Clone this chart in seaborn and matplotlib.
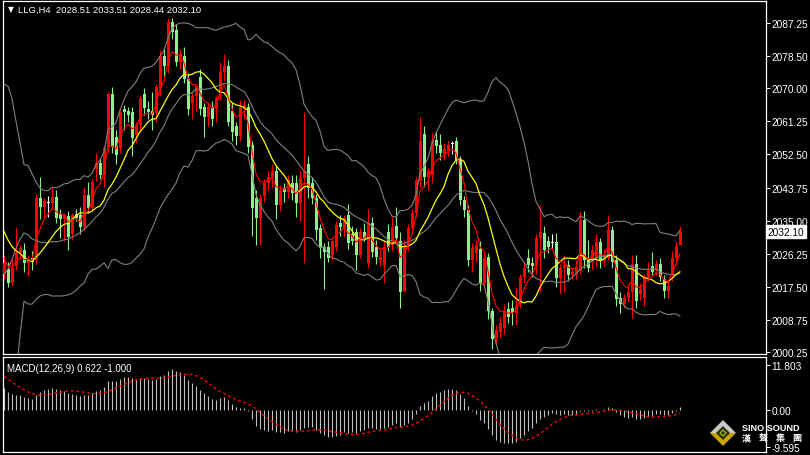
import numpy as np
import pandas as pd
import seaborn as sns
import matplotlib.pyplot as plt
from matplotlib.patches import Polygon

### LLG H4 candles with Bollinger(20,2), two MAs and MACD(12,26,9)

# closes before the visible window, only used to warm up the indicators
pre_close = [2003, 2000, 2002, 2005, 2001, 1999, 2002, 2004, 2001, 2003,
             2000, 2002, 2005, 2003, 2001, 2004, 2002, 2000, 2003, 2001,
             1999, 2002, 2004, 2001, 2003,
             1990, 1972, 1968, 1980, 1990,
             2034, 2046, 2050, 2046, 2043, 2040, 2036, 2037, 2032, 2029,
             2027, 2026, 2024, 2022]

opens = [2021.0, 2022.3, 2018.6, 2023.0, 2026.4, 2027.3, 2023.7, 2025.0, 2024.5, 2041.0,
         2038.5, 2039.6, 2039.6, 2041.3, 2036.8, 2035.4, 2036.3, 2031.5, 2036.8, 2036.6,
         2033.2, 2041.8, 2038.3, 2048.7, 2050.3, 2047.1, 2054.5, 2068.5, 2057.0, 2054.2,
         2064.4, 2064.0, 2063.8, 2057.7, 2060.4, 2068.4, 2064.5, 2064.0, 2063.5, 2070.0,
         2078.5, 2076.0, 2087.5, 2085.5, 2077.0, 2078.5, 2072.4, 2066.0, 2068.0, 2073.0,
         2065.0, 2062.5, 2065.0, 2064.5, 2068.9, 2074.4, 2076.0, 2064.0, 2060.0, 2057.5,
         2064.5, 2065.0, 2055.0, 2041.0, 2035.7, 2041.5, 2045.0, 2046.6, 2048.0, 2039.0,
         2043.5, 2042.5, 2045.0, 2045.0, 2039.6, 2046.3, 2050.0, 2045.0, 2041.0, 2033.0,
         2028.0, 2028.0, 2025.8, 2028.0, 2034.5, 2033.0, 2036.5, 2031.5, 2031.9, 2026.0,
         2032.0, 2023.7, 2034.5, 2028.0, 2024.5, 2023.3, 2032.0, 2028.5, 2033.5, 2029.5,
         2016.5, 2028.5, 2033.0, 2037.0, 2045.5, 2058.0, 2046.5, 2047.0, 2056.2, 2055.0,
         2052.5, 2053.5, 2055.3, 2056.0, 2051.0, 2040.5, 2037.8, 2024.5, 2026.5, 2027.6,
         2018.6, 2025.4, 2011.0, 2004.0, 2005.5, 2006.5, 2011.5, 2012.0, 2010.5, 2013.0,
         2020.0, 2025.0, 2023.8, 2023.3, 2030.3, 2031.8, 2029.5, 2029.0, 2029.3, 2019.7,
         2022.4, 2023.2, 2020.5, 2021.0, 2021.8, 2035.2, 2024.5, 2024.0, 2025.0, 2029.3,
         2024.3, 2025.2, 2032.4, 2024.5, 2014.6, 2013.0, 2014.6, 2016.0, 2023.5, 2015.5,
         2014.5, 2020.0, 2023.0, 2021.8, 2023.5, 2019.5, 2016.5, 2020.5, 2025.0, 2028.51]

highs = [2026.0, 2024.0, 2025.0, 2033.3, 2028.5, 2029.0, 2026.0, 2027.0, 2042.0, 2046.5,
         2041.0, 2041.5, 2043.6, 2043.0, 2038.0, 2037.0, 2037.5, 2037.0, 2038.0, 2038.5,
         2043.5, 2045.2, 2046.0, 2053.0, 2051.5, 2055.0, 2069.0, 2070.2, 2059.0, 2064.5,
         2065.5, 2065.0, 2065.0, 2061.0, 2068.0, 2070.0, 2066.5, 2069.0, 2071.0, 2080.0,
         2081.0, 2088.5, 2088.5, 2087.0, 2080.5, 2081.0, 2074.0, 2069.0, 2071.0, 2075.0,
         2066.0, 2066.0, 2066.5, 2068.0, 2077.0, 2079.0, 2077.5, 2066.0, 2061.0, 2067.0,
         2067.0, 2066.0, 2056.0, 2043.0, 2042.0, 2046.0, 2048.0, 2050.0, 2049.5, 2044.5,
         2045.0, 2047.0, 2047.0, 2047.0, 2048.0, 2063.6, 2052.0, 2046.5, 2042.0, 2034.0,
         2029.0, 2029.5, 2030.0, 2035.0, 2036.5, 2036.5, 2039.5, 2033.5, 2033.0, 2033.0,
         2034.5, 2038.0, 2036.0, 2030.0, 2027.5, 2029.5, 2034.0, 2036.0, 2038.5, 2032.0,
         2030.0, 2034.0, 2038.0, 2046.5, 2062.3, 2060.0, 2049.0, 2058.5, 2058.5, 2058.0,
         2055.5, 2056.0, 2056.0, 2057.0, 2052.0, 2041.5, 2039.0, 2029.0, 2030.0, 2029.5,
         2026.5, 2026.5, 2012.0, 2007.5, 2009.5, 2013.0, 2013.5, 2014.0, 2017.5, 2021.0,
         2024.0, 2027.5, 2025.5, 2031.5, 2039.2, 2033.5, 2031.0, 2031.5, 2031.8, 2023.5,
         2026.0, 2024.5, 2022.5, 2024.5, 2037.2, 2037.5, 2030.0, 2028.5, 2031.5, 2030.5,
         2027.5, 2036.5, 2033.5, 2026.0, 2016.0, 2015.5, 2017.5, 2026.0, 2026.0, 2018.5,
         2021.0, 2024.0, 2026.6, 2024.5, 2025.0, 2020.5, 2019.0, 2027.0, 2029.5, 2033.51]

lows = [2019.5, 2017.5, 2018.0, 2022.0, 2025.0, 2021.5, 2020.5, 2022.0, 2023.5, 2035.5,
        2036.0, 2036.0, 2038.0, 2034.5, 2030.3, 2029.5, 2027.1, 2030.0, 2035.0, 2031.5,
        2032.5, 2037.0, 2037.5, 2045.5, 2046.0, 2044.0, 2053.0, 2053.0, 2050.0, 2053.0,
        2059.0, 2061.0, 2052.0, 2055.5, 2059.0, 2063.0, 2062.0, 2059.0, 2061.0, 2068.0,
        2073.0, 2074.0, 2083.0, 2076.0, 2075.0, 2071.5, 2063.0, 2062.0, 2064.0, 2063.0,
        2057.0, 2060.0, 2060.0, 2061.0, 2067.0, 2072.0, 2060.0, 2056.0, 2055.0, 2056.0,
        2062.0, 2053.0, 2031.0, 2028.5, 2028.5, 2040.0, 2043.0, 2044.0, 2035.5, 2037.5,
        2040.0, 2041.0, 2040.5, 2036.0, 2035.0, 2023.7, 2041.0, 2039.5, 2030.0, 2025.0,
        2017.0, 2024.0, 2024.5, 2027.0, 2031.0, 2031.0, 2027.5, 2028.5, 2022.0, 2025.0,
        2029.5, 2022.5, 2025.5, 2023.5, 2023.0, 2018.5, 2027.0, 2027.0, 2029.5, 2012.0,
        2016.0, 2027.0, 2031.5, 2036.0, 2044.0, 2044.0, 2043.0, 2045.0, 2053.0, 2051.0,
        2051.0, 2052.0, 2052.5, 2050.0, 2039.0, 2036.0, 2023.0, 2021.5, 2024.0, 2016.5,
        2017.0, 2009.0, 2001.0, 2002.5, 2004.0, 2005.0, 2008.0, 2007.5, 2007.5, 2012.0,
        2018.5, 2021.5, 2020.0, 2021.0, 2016.5, 2025.0, 2026.5, 2027.5, 2017.5, 2015.5,
        2016.0, 2019.0, 2019.5, 2019.5, 2021.0, 2022.5, 2021.5, 2022.0, 2023.0, 2022.5,
        2023.0, 2024.5, 2022.5, 2012.5, 2010.6, 2012.0, 2013.5, 2009.3, 2012.0, 2014.0,
        2012.5, 2019.0, 2020.5, 2020.5, 2019.0, 2014.5, 2014.5, 2019.0, 2024.0, 2028.44]

closes = [2023.7, 2018.6, 2022.6, 2026.4, 2027.8, 2023.7, 2024.5, 2024.0, 2041.0, 2038.5,
          2040.2, 2039.6, 2041.3, 2035.8, 2035.4, 2036.5, 2030.6, 2036.4, 2035.6, 2033.2,
          2041.8, 2038.3, 2045.2, 2050.3, 2047.1, 2054.3, 2068.5, 2054.5, 2052.4, 2063.8,
          2063.6, 2062.8, 2056.9, 2060.4, 2067.5, 2064.9, 2063.7, 2062.8, 2070.2, 2078.5,
          2075.8, 2087.5, 2085.0, 2077.0, 2079.0, 2072.4, 2064.4, 2068.0, 2070.5, 2064.4,
          2062.5, 2065.0, 2062.0, 2067.5, 2074.4, 2076.0, 2061.0, 2058.5, 2057.5, 2065.0,
          2065.5, 2054.5, 2038.3, 2035.7, 2041.0, 2045.0, 2046.6, 2048.0, 2039.0, 2043.0,
          2042.5, 2045.7, 2042.3, 2039.6, 2046.3, 2048.0, 2043.6, 2041.0, 2032.5, 2027.7,
          2026.8, 2025.2, 2029.5, 2033.8, 2033.2, 2035.7, 2029.0, 2029.5, 2025.8, 2031.9,
          2030.5, 2034.5, 2026.6, 2025.4, 2025.5, 2028.0, 2028.0, 2033.2, 2030.5, 2016.0,
          2028.0, 2033.0, 2037.0, 2045.7, 2056.0, 2046.5, 2048.2, 2056.0, 2054.8, 2052.8,
          2054.0, 2055.0, 2055.3, 2050.8, 2040.5, 2037.8, 2024.5, 2027.8, 2028.5, 2018.6,
          2025.0, 2011.2, 2003.8, 2006.0, 2008.0, 2011.2, 2009.5, 2010.5, 2012.5, 2020.0,
          2022.6, 2023.2, 2023.0, 2030.3, 2032.0, 2027.2, 2028.0, 2029.0, 2019.7, 2022.4,
          2023.2, 2020.5, 2021.3, 2022.8, 2035.2, 2024.5, 2022.4, 2027.1, 2029.3, 2024.3,
          2025.8, 2032.4, 2024.0, 2014.4, 2013.0, 2014.6, 2016.0, 2023.5, 2013.8, 2017.0,
          2020.0, 2022.0, 2021.5, 2023.5, 2020.0, 2016.5, 2017.7, 2025.2, 2028.4, 2032.10]

price_ticks = [2087.25, 2078.50, 2070.00, 2061.25, 2052.50, 2043.75,
               2035.00, 2026.25, 2017.50, 2008.75, 2000.25]
price_labels = ["2087.25", "2078.50", "2070.00", "2061.25", "2052.50", "2043.75",
                "2035.00", "2026.25", "2017.50", "2008.75", "2000.25"]
macd_ticks = [11.803, 0.0, -9.595]
macd_labels = ["11.803", "0.00", "-9.595"]
header = "LLG,H4  2028.51 2033.51 2028.44 2032.10"
macd_header = "MACD(12,26,9) 0.622 -1.000"
last_price = 2032.10
logo_en = "SINO SOUND"
logo_cn = ["漢", "聲", "集", "團"]

sns.set_style("dark")
plt.rcParams["font.family"] = ["Liberation Sans", "DejaVu Sans"]

df = pd.DataFrame({"open": opens, "high": highs, "low": lows, "close": closes})
n = len(df)
k = len(pre_close)

allc = pd.Series(pre_close + closes, dtype=float)
mid = allc.rolling(20).mean()
sd = allc.rolling(20).std(ddof=0)
ema12 = allc.ewm(span=12, adjust=False).mean()
ema26 = allc.ewm(span=26, adjust=False).mean()
macd = ema12 - ema26
ind = pd.DataFrame({
    "mid": mid, "up": mid + 2 * sd, "lo": mid - 2 * sd,
    "ma_y": allc.rolling(12).mean(),
    "ma_r": allc.ewm(span=5, adjust=False).mean(),
    "macd": macd, "sig": macd.rolling(9).mean(),
}).iloc[k:].reset_index(drop=True)
ind["x"] = np.arange(n)

fig = plt.figure(figsize=(8.1, 4.56), dpi=100, facecolor="black")
ax = fig.add_axes([3 / 810, 101 / 456, 763 / 810, 353 / 456])
ax2 = fig.add_axes([3 / 810, 3 / 456, 763 / 810, 95 / 456])

x = np.arange(n)
o, h, l, c = df["open"].values, df["high"].values, df["low"].values, df["close"].values
col = np.where(c > o, "#ff0000", np.where(c < o, "#90ee90", "#ffffff"))
ax.vlines(x, l, h, colors=col, lw=0.8, zorder=2)
ax.bar(x, np.maximum(np.abs(c - o), 0.25), bottom=np.minimum(o, c), width=0.75,
       color=col, lw=0, zorder=3)

for name in ["up", "mid", "lo"]:
    sns.lineplot(data=ind, x="x", y=name, ax=ax, color="#808080", lw=0.8, zorder=4)
sns.lineplot(data=ind, x="x", y="ma_y", ax=ax, color="#ffff00", lw=0.9, zorder=5)
sns.lineplot(data=ind, x="x", y="ma_r", ax=ax, color="#ff0000", lw=0.8, zorder=6)

ax2.vlines(x, 0, ind["macd"], colors="#c0c0c0", lw=0.8)
sns.lineplot(data=ind, x="x", y="sig", ax=ax2, color="#ff0000", lw=1.0)
ax2.lines[-1].set_linestyle((0, (2, 2)))

for a in (ax, ax2):
    a.set_facecolor("black")
    a.set_xlim(-0.25, 190.5)
    a.set_xlabel("")
    a.set_ylabel("")
    a.set_xticks([])
    a.grid(False)
    for s in a.spines.values():
        s.set_color("white")
        s.set_linewidth(0.9)
    a.yaxis.tick_right()
    a.tick_params(axis="y", colors="white", labelcolor="white", length=3,
                  width=0.7, pad=1, labelsize=7.3)

ax.set_ylim(1999.73, 2093.07)
ax.set_yticks(price_ticks)
ax.set_yticklabels(price_labels)
ax2.set_ylim(-11.0, 13.9)
ax2.set_yticks(macd_ticks)
ax2.set_yticklabels(macd_labels)

ax.text(1.002, last_price, "2032.10", transform=ax.get_yaxis_transform(),
        va="center", ha="left", fontsize=7.3, color="black",
        bbox=dict(boxstyle="square,pad=0.15", fc="white", ec="white"))

fig.text(8 / 810, 1 - 10 / 456, "▼", color="white", fontsize=5.5, va="center",
         family=["DejaVu Sans"])
fig.text(18 / 810, 1 - 10 / 456, header, color="white", fontsize=6.8, va="center")
fig.text(7 / 810, 1 - 369 / 456, macd_header, color="white", fontsize=7.0, va="center")

# logo, bottom right
def px(xp, yp):
    return (xp / 810, 1 - yp / 456)

fig.patches.append(Polygon([px(710, 434), px(723, 421), px(736, 434)], closed=True,
                           fc="#c8c8c8", ec="none", transform=fig.transFigure))
fig.patches.append(Polygon([px(710, 434), px(736, 434), px(723, 447)], closed=True,
                           fc="#c9a400", ec="none", transform=fig.transFigure))
fig.patches.append(Polygon([px(723, 427), px(730, 434), px(723, 441), px(716, 434)],
                           closed=True, fc="#303000", ec="none", transform=fig.transFigure))
fig.patches.append(Polygon([px(723, 431), px(726, 434), px(723, 437), px(720, 434)],
                           closed=True, fc="none", ec="#9acd32", lw=0.8,
                           transform=fig.transFigure))
fig.text(742 / 810, 1 - 429 / 456, logo_en, color="white", fontsize=6.6,
         fontweight="bold", va="center")
for ch, xp in zip(logo_cn, [746, 763, 780, 797]):
    fig.text(xp / 810, 1 - 439 / 456, ch, color="white", fontsize=6.5, va="center",
             ha="center", family=["Noto Sans CJK TC", "DejaVu Sans"], fontweight="bold")

plt.savefig("out.png", dpi=100, facecolor="black")
